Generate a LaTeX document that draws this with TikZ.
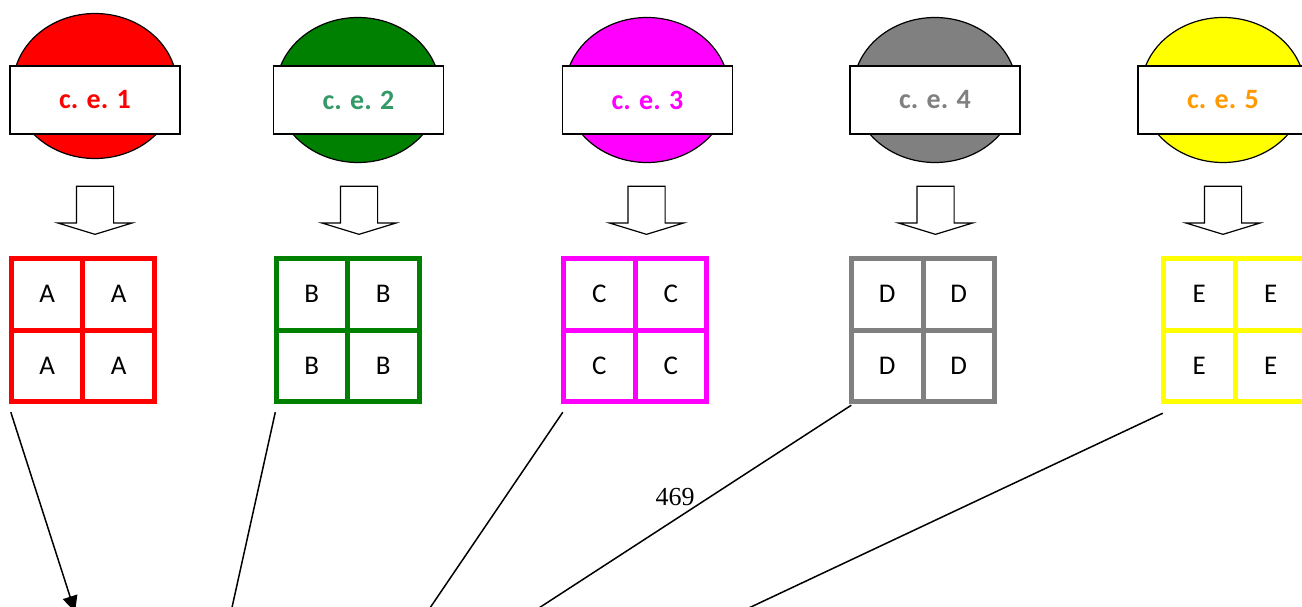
\documentclass[tikz,border=0pt]{standalone}
\usepackage{fontspec}
\setmainfont{Carlito}
\newfontfamily\pagefont{Liberation Serif}
\usetikzlibrary{shapes.geometric,shapes.arrows,matrix,arrows.meta}
\definecolor{ceRed}{HTML}{FF0000}
\definecolor{ceGreen}{HTML}{008000}
\definecolor{ceMagenta}{HTML}{FF00FF}
\definecolor{ceGray}{HTML}{808080}
\definecolor{ceYellow}{HTML}{FFFF00}
\definecolor{txGreen}{HTML}{339966}
\definecolor{txOrange}{HTML}{FF9900}
\begin{document}
\begin{tikzpicture}[x=1pt,y=-1pt,
	disc/.style={ellipse, draw, line width=1.2pt, minimum width=164pt, minimum height=145pt, inner sep=0pt},
	namebox/.style={rectangle, draw, line width=1.5pt, fill=white, minimum width=170pt, minimum height=68pt, font=\fontsize{28}{34}\selectfont\bfseries},
	drop/.style={single arrow, draw, line width=1.2pt, rotate=-90, minimum height=48pt, text height=0pt, text depth=0pt, text width=0pt, inner xsep=0pt, inner ysep=18pt, single arrow head extend=18.5pt, single arrow tip angle=146},
	cellgrid/.style={matrix of nodes, inner sep=0pt, column sep=-5pt, row sep=-5pt, nodes={draw=#1, line width=5pt, minimum size=71.5pt, outer sep=0pt, inner sep=0pt, font=\fontsize{27}{32}\selectfont}},
	link/.style={draw=black, line width=1.5pt}]
	\useasboundingbox (0,0) rectangle (1302,607);
	\clip (0,0) rectangle (1302,607);
	% top row
	\node (E1) at (  95, 86)	[disc, fill = ceRed]	{};
	\node (E2) at ( 358, 90)	[disc, fill = ceGreen]	{};
	\node (E3) at ( 647, 90)	[disc, fill = ceMagenta]	{};
	\node (E4) at ( 935, 90)	[disc, fill = ceGray]	{};
	\node (E5) at (1223, 90)	[disc, fill = ceYellow]	{};
	\node (N1) at (  95,100)	[namebox, text = ceRed]	{c. e. 1};
	\node (N2) at (358.5,100)	[namebox, text = txGreen]	{c. e. 2};
	\node (N3) at (647.5,100)	[namebox, text = ceMagenta]	{c. e. 3};
	\node (N4) at ( 935,100)	[namebox, text = ceGray]	{c. e. 4};
	\node (N5) at (1223,100)	[namebox, text = txOrange]	{c. e. 5};
	\node (D1) at (  95,207.5)	[drop]	{};
	\node (D2) at ( 359,207.5)	[drop]	{};
	\node (D3) at (646.5,207.5)	[drop]	{};
	\node (D4) at (935.5,207.5)	[drop]	{};
	\node (D5) at (1223,207.5)	[drop]	{};
	% grids
	\matrix (gA) at (  83,330)	[cellgrid = ceRed]	{A & A \\ A & A \\};
	\matrix (gB) at (347.5,330)	[cellgrid = ceGreen]	{B & B \\ B & B \\};
	\matrix (gC) at ( 635,330)	[cellgrid = ceMagenta]	{C & C \\ C & C \\};
	\matrix (gD) at ( 923,330)	[cellgrid = ceGray]	{D & D \\ D & D \\};
	\matrix (gE) at (1235,330)	[cellgrid = ceYellow]	{E & E \\ E & E \\};
	\node (pg) at (675,497)	[font=\pagefont\fontsize{26}{30}\selectfont]	{469};
	% connectors
	\coordinate (t1) at (75,612);
	\coordinate (t2) at (227,630);
	\coordinate (t3) at (415,630);
	\coordinate (t4) at (505,630);
	\coordinate (t5) at (702,630);
	\draw[link, -{Triangle[length=16pt,width=15pt]}] ([shift={(2pt,-8pt)}]gA.south west) -- (t1);
	\draw[link] ([shift={(2pt,-8pt)}]gB.south west) -- (t2);
	\draw[link] ([shift={(2pt,-8pt)}]gC.south west) -- (t3);
	\draw[link] ([shift={(2.5pt,-1pt)}]gD.south west) -- (t4);
	\draw[link] ([shift={(2pt,-9pt)}]gE.south west) -- (t5);
\end{tikzpicture}
\end{document}
